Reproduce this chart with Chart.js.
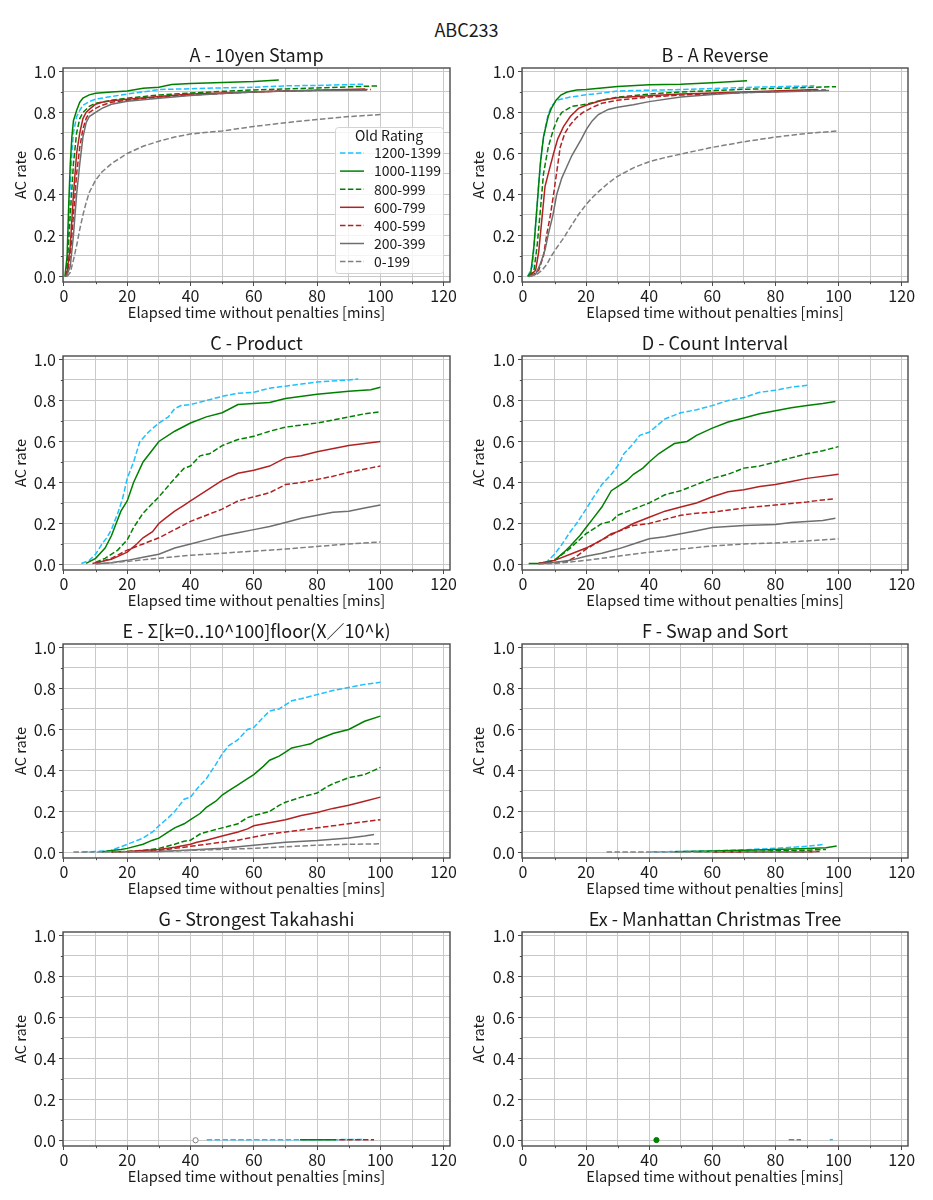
<!DOCTYPE html>
<html>
<head>
<meta charset="utf-8">
<title>ABC233</title>
<script src="https://cdn.jsdelivr.net/npm/chart.js@4.4.1/dist/chart.umd.min.js"></script>
<style>
  body { margin: 0; background: #fff; width: 933px; height: 1200px; position: relative; font-family: "Noto Sans CJK JP", "Noto Sans", sans-serif; }
  #suptitle { position: absolute; left: 0; top: 19px; width: 933px; text-align: center; font-size: 18px; line-height: 21px; color: #1a1a1a; }
  canvas { position: absolute; }
</style>
</head>
<body>
<div id="suptitle">ABC233</div>
<script>
const groups = ["1200-1399", "1000-1199", "800-999", "600-799", "400-599", "200-399", "0-199"];
const groupColors = ["#1ec0ff", "#008000", "#008000", "#b22222", "#b22222", "#6e6e6e", "#808080"];
const groupDashed = [true, false, true, false, true, false, true];

const xTickStep = 10;
const yTickStep = 0.1;

// each series: [minutes, AC rate] pairs, same order as groups
const seriesA = [
  [[0.5, 0], [1, 0.05], [1.5, 0.25], [2, 0.45], [2.5, 0.6], [3, 0.7], [4, 0.78], [5, 0.81], [6, 0.835], [8, 0.853], [10, 0.865], [15, 0.878], [20, 0.89], [25, 0.9], [30, 0.912], [40, 0.916], [50, 0.92], [60, 0.923], [70, 0.93], [80, 0.932], [94.7, 0.938]],
  [[0.3, 0], [1, 0.1], [1.5, 0.35], [2, 0.55], [2.5, 0.68], [3, 0.76], [4, 0.81], [5, 0.85], [6, 0.87], [8, 0.886], [10, 0.894], [15, 0.9], [20, 0.905], [25, 0.918], [30, 0.923], [34, 0.936], [40, 0.941], [50, 0.946], [60, 0.951], [67.9, 0.959]],
  [[0.5, 0], [1, 0.05], [2, 0.3], [3, 0.55], [4, 0.7], [5, 0.77], [6, 0.8], [8, 0.83], [10, 0.845], [15, 0.86], [20, 0.87], [30, 0.885], [40, 0.895], [50, 0.903], [60, 0.91], [70, 0.915], [80, 0.92], [90, 0.925], [99.6, 0.93]],
  [[0.5, 0], [1, 0.02], [2, 0.15], [3, 0.4], [4, 0.6], [5, 0.7], [6, 0.77], [7, 0.8], [8, 0.815], [10, 0.84], [12, 0.85], [15, 0.857], [20, 0.865], [30, 0.878], [40, 0.89], [50, 0.895], [60, 0.9], [70, 0.905], [80, 0.908], [95.2, 0.915]],
  [[0.5, 0], [1, 0.01], [2, 0.1], [3, 0.3], [4, 0.5], [5, 0.63], [6, 0.72], [7, 0.77], [8, 0.8], [10, 0.82], [12, 0.835], [15, 0.85], [20, 0.86], [30, 0.875], [40, 0.885], [50, 0.893], [60, 0.9], [70, 0.905], [80, 0.908], [97, 0.912]],
  [[0.5, 0], [1, 0.01], [2, 0.05], [3, 0.2], [4, 0.4], [5, 0.55], [6, 0.68], [7, 0.75], [8, 0.78], [10, 0.8], [12, 0.82], [15, 0.84], [20, 0.855], [30, 0.87], [40, 0.883], [50, 0.893], [60, 0.9], [70, 0.905], [80, 0.907], [95.7, 0.908]],
  [[1, 0], [2, 0.02], [3, 0.08], [4, 0.15], [5, 0.23], [6, 0.3], [7, 0.36], [8, 0.41], [10, 0.47], [12, 0.51], [15, 0.55], [18, 0.58], [20, 0.6], [25, 0.635], [30, 0.66], [35, 0.68], [40, 0.695], [50, 0.71], [60, 0.732], [70, 0.75], [80, 0.766], [90, 0.78], [100, 0.79]],
];

const seriesB = [
  [[1.5, 0], [3, 0.05], [4, 0.25], [5, 0.45], [6, 0.62], [7, 0.72], [8, 0.79], [9, 0.83], [10.7, 0.86], [15, 0.875], [20, 0.886], [25, 0.895], [30, 0.905], [50, 0.912], [70, 0.922], [92.3, 0.93]],
  [[1.5, 0], [2.5, 0.02], [3.5, 0.15], [4.5, 0.35], [5.5, 0.55], [6.5, 0.68], [8, 0.78], [9, 0.82], [10.5, 0.86], [12, 0.885], [14, 0.9], [17, 0.91], [20, 0.912], [25, 0.92], [30, 0.927], [40, 0.935], [50, 0.938], [60, 0.945], [71, 0.955]],
  [[2, 0], [3.5, 0.03], [4.5, 0.15], [5.5, 0.32], [6.5, 0.5], [8, 0.63], [9.7, 0.72], [11, 0.77], [12.3, 0.8], [15.5, 0.83], [20, 0.84], [25, 0.86], [30, 0.875], [40, 0.89], [50, 0.9], [70, 0.913], [99.2, 0.926]],
  [[2, 0], [4, 0.03], [5, 0.12], [6, 0.28], [7, 0.44], [8.5, 0.53], [9.7, 0.6], [11, 0.67], [12.8, 0.73], [15, 0.78], [17.6, 0.82], [20, 0.835], [25, 0.86], [30, 0.872], [40, 0.882], [50, 0.89], [70, 0.9], [93.4, 0.912]],
  [[2.5, 0], [5, 0.03], [6.5, 0.1], [7.6, 0.21], [8.7, 0.3], [9.7, 0.4], [10.8, 0.52], [11.8, 0.63], [13.3, 0.7], [15, 0.74], [17, 0.775], [19, 0.8], [22, 0.825], [25, 0.845], [30, 0.86], [40, 0.875], [50, 0.885], [70, 0.897], [96, 0.91]],
  [[2, 0], [4, 0.01], [5.5, 0.06], [7, 0.13], [8.1, 0.21], [9.5, 0.3], [10.7, 0.4], [12.3, 0.48], [13.9, 0.535], [15.5, 0.59], [17, 0.63], [18.5, 0.67], [20.2, 0.72], [22, 0.76], [23.9, 0.79], [27, 0.815], [30, 0.825], [35, 0.838], [40, 0.853], [50, 0.875], [60, 0.888], [70, 0.897], [80, 0.9], [97, 0.907]],
  [[2, 0], [4.4, 0.01], [6, 0.03], [7.6, 0.06], [9, 0.1], [10.7, 0.14], [13, 0.19], [15, 0.24], [17.5, 0.3], [20.2, 0.355], [22, 0.385], [24.4, 0.42], [27, 0.455], [29.7, 0.486], [35, 0.53], [40, 0.56], [45, 0.58], [50, 0.597], [60, 0.63], [70, 0.657], [80, 0.68], [90, 0.698], [100, 0.71]],
];

const seriesC = [
  [[5.5, 0.005], [8, 0.02], [10, 0.05], [12, 0.1], [13.5, 0.13], [15, 0.17], [17, 0.25], [18.5, 0.32], [20, 0.42], [22, 0.5], [24, 0.6], [27, 0.65], [30, 0.69], [33, 0.72], [35, 0.76], [37, 0.775], [40, 0.78], [45, 0.8], [50, 0.82], [55, 0.835], [60, 0.84], [65, 0.86], [70, 0.87], [75, 0.88], [80, 0.89], [90, 0.9], [93, 0.905]],
  [[7, 0.005], [10, 0.03], [13, 0.08], [15, 0.14], [18, 0.26], [20, 0.31], [22, 0.4], [25, 0.5], [28, 0.56], [30, 0.6], [35, 0.65], [40, 0.69], [45, 0.72], [50, 0.74], [55, 0.78], [60, 0.785], [65, 0.79], [70, 0.81], [80, 0.83], [90, 0.845], [97, 0.852], [100, 0.865]],
  [[10, 0.01], [13, 0.03], [17, 0.07], [20, 0.12], [22, 0.18], [25, 0.25], [30, 0.33], [35, 0.42], [38, 0.47], [40, 0.48], [43, 0.53], [46, 0.54], [50, 0.58], [55, 0.61], [60, 0.625], [65, 0.65], [70, 0.67], [80, 0.69], [90, 0.72], [95, 0.735], [100, 0.745]],
  [[9, 0.005], [12, 0.015], [15, 0.025], [20, 0.06], [23, 0.1], [25, 0.13], [28, 0.16], [30, 0.2], [32, 0.225], [35, 0.26], [38, 0.29], [40, 0.31], [45, 0.36], [50, 0.41], [55, 0.445], [60, 0.46], [65, 0.48], [70, 0.52], [75, 0.53], [80, 0.55], [90, 0.58], [100, 0.6]],
  [[10, 0.005], [15, 0.03], [20, 0.07], [25, 0.1], [30, 0.13], [35, 0.17], [40, 0.21], [45, 0.24], [50, 0.27], [55, 0.31], [60, 0.33], [65, 0.35], [70, 0.39], [75, 0.4], [80, 0.415], [85, 0.43], [90, 0.45], [100, 0.48]],
  [[10, 0.003], [15, 0.008], [20, 0.02], [25, 0.035], [30, 0.05], [35, 0.08], [40, 0.1], [45, 0.12], [50, 0.14], [55, 0.155], [60, 0.17], [65, 0.185], [70, 0.205], [75, 0.225], [80, 0.24], [85, 0.255], [90, 0.26], [95, 0.275], [100, 0.29]],
  [[10, 0.002], [20, 0.015], [30, 0.03], [40, 0.045], [50, 0.055], [60, 0.065], [70, 0.075], [80, 0.088], [90, 0.1], [100, 0.11]],
];

const seriesD = [
  [[7, 0.005], [10, 0.05], [12, 0.09], [15, 0.16], [17, 0.2], [20, 0.27], [22, 0.32], [25, 0.39], [28, 0.44], [30, 0.48], [32, 0.54], [35, 0.59], [37, 0.63], [40, 0.645], [45, 0.71], [50, 0.74], [55, 0.755], [60, 0.775], [65, 0.8], [70, 0.815], [75, 0.84], [80, 0.85], [85, 0.865], [90.7, 0.875]],
  [[1.8, 0.005], [5, 0.005], [10, 0.02], [13, 0.06], [15, 0.09], [18, 0.14], [20, 0.18], [22, 0.22], [25, 0.28], [28, 0.36], [30, 0.38], [33, 0.41], [35, 0.44], [38, 0.47], [40, 0.5], [43, 0.54], [45, 0.56], [48, 0.59], [52, 0.6], [55, 0.63], [60, 0.665], [65, 0.695], [70, 0.715], [75, 0.735], [80, 0.75], [85, 0.765], [90, 0.775], [95, 0.785], [99, 0.795]],
  [[5, 0.005], [10, 0.02], [15, 0.08], [20, 0.15], [25, 0.2], [28, 0.21], [30, 0.24], [35, 0.27], [40, 0.3], [45, 0.34], [50, 0.36], [55, 0.39], [60, 0.42], [65, 0.44], [70, 0.47], [75, 0.48], [80, 0.5], [85, 0.52], [90, 0.54], [95, 0.555], [100, 0.575]],
  [[5, 0.005], [10, 0.02], [15, 0.05], [20, 0.08], [25, 0.12], [28, 0.15], [30, 0.16], [35, 0.2], [40, 0.23], [45, 0.26], [50, 0.28], [55, 0.3], [60, 0.33], [65, 0.355], [70, 0.365], [75, 0.38], [80, 0.39], [85, 0.405], [90, 0.42], [100, 0.44]],
  [[5, 0.005], [10, 0.01], [14, 0.015], [17, 0.04], [20, 0.075], [25, 0.12], [30, 0.16], [35, 0.19], [40, 0.2], [45, 0.22], [50, 0.24], [55, 0.25], [60, 0.255], [70, 0.275], [80, 0.29], [90, 0.305], [95, 0.315], [99, 0.32]],
  [[5, 0.003], [10, 0.01], [15, 0.02], [20, 0.04], [25, 0.055], [30, 0.075], [35, 0.1], [40, 0.125], [45, 0.135], [50, 0.15], [55, 0.165], [60, 0.18], [65, 0.185], [70, 0.19], [80, 0.195], [85, 0.205], [90, 0.21], [95, 0.215], [99, 0.225]],
  [[5, 0.002], [10, 0.005], [20, 0.02], [30, 0.04], [40, 0.06], [50, 0.075], [60, 0.09], [70, 0.1], [80, 0.105], [90, 0.115], [100, 0.125]],
];

const seriesE = [
  [[6, 0.002], [10, 0.005], [15, 0.01], [20, 0.04], [25, 0.07], [28, 0.1], [30, 0.13], [33, 0.17], [35, 0.2], [38, 0.26], [40, 0.27], [42, 0.31], [45, 0.36], [48, 0.43], [50, 0.48], [52, 0.52], [55, 0.55], [58, 0.6], [60, 0.61], [63, 0.66], [65, 0.69], [68, 0.7], [70, 0.72], [72, 0.74], [75, 0.75], [80, 0.77], [85, 0.79], [90, 0.805], [95, 0.82], [100, 0.83]],
  [[12, 0.002], [15, 0.01], [18, 0.015], [20, 0.02], [25, 0.04], [28, 0.06], [30, 0.07], [33, 0.1], [35, 0.12], [38, 0.14], [40, 0.16], [43, 0.19], [45, 0.22], [48, 0.25], [50, 0.28], [52, 0.3], [55, 0.33], [58, 0.36], [60, 0.38], [63, 0.42], [65, 0.45], [68, 0.47], [70, 0.49], [72, 0.51], [75, 0.52], [78, 0.53], [80, 0.55], [85, 0.58], [90, 0.6], [95, 0.64], [100, 0.665]],
  [[15, 0.002], [20, 0.005], [25, 0.01], [30, 0.02], [35, 0.04], [38, 0.055], [40, 0.06], [43, 0.09], [45, 0.1], [50, 0.12], [55, 0.14], [58, 0.17], [60, 0.18], [65, 0.2], [68, 0.23], [70, 0.245], [75, 0.27], [80, 0.29], [83, 0.32], [85, 0.335], [90, 0.365], [95, 0.38], [100, 0.415]],
  [[15, 0.002], [20, 0.005], [25, 0.01], [30, 0.015], [35, 0.025], [40, 0.04], [42, 0.05], [45, 0.06], [50, 0.08], [55, 0.1], [58, 0.115], [60, 0.13], [65, 0.145], [70, 0.16], [75, 0.18], [80, 0.195], [85, 0.215], [90, 0.23], [95, 0.25], [100, 0.27]],
  [[20, 0.002], [30, 0.01], [35, 0.02], [40, 0.03], [45, 0.04], [50, 0.05], [55, 0.06], [60, 0.075], [65, 0.09], [70, 0.1], [75, 0.11], [80, 0.12], [85, 0.13], [90, 0.14], [95, 0.15], [100, 0.16]],
  [[20, 0.002], [30, 0.005], [40, 0.012], [50, 0.02], [60, 0.035], [70, 0.05], [80, 0.058], [90, 0.07], [95, 0.08], [98, 0.088]],
  [[3, 0.002], [20, 0.003], [30, 0.005], [40, 0.01], [50, 0.015], [60, 0.02], [70, 0.028], [80, 0.035], [90, 0.04], [100, 0.042]],
];

const seriesF = [
  [[40.7, 0.003], [50, 0.005], [60, 0.008], [70, 0.013], [80, 0.02], [85, 0.025], [90, 0.03], [95, 0.039]],
  [[48, 0.003], [60, 0.007], [70, 0.011], [80, 0.015], [90, 0.019], [96, 0.023], [99.4, 0.031]],
  [[55, 0.003], [70, 0.005], [80, 0.008], [90, 0.011], [96, 0.015]],
  [[60, 0.002], [75, 0.003], [85, 0.004], [94, 0.005]],
  [[65, 0.002], [80, 0.003], [92, 0.004]],
  [[70, 0.002], [90, 0.003]],
  [[26.5, 0.002], [40, 0.002], [60, 0.003], [80, 0.003], [93, 0.004]],
];

const seriesG = [
  [[45.1, 0.003], [60, 0.003], [75, 0.004], [86, 0.004], [95, 0.005]],
  [[74.6, 0.003], [80, 0.004], [86, 0.004]],
  [],
  [],
  [[87, 0.004], [98, 0.004]],
  [],
  [[41.6, 0.001]],
];

const seriesEx = [
  [[97.2, 0.004], [98.2, 0.004]],
  [[42.3, 0.002]],
  [],
  [],
  [],
  [],
  [[84.2, 0.003], [88.1, 0.003]],
];

const panels = [
  { title: "A - 10yen Stamp", series: seriesA, legend: true },
  { title: "B - A Reverse", series: seriesB },
  { title: "C - Product", series: seriesC },
  { title: "D - Count Interval", series: seriesD },
  { title: "E - Σ[k=0..10^100]floor(X／10^k)", series: seriesE },
  { title: "F - Swap and Sort", series: seriesF },
  { title: "G - Strongest Takahashi", series: seriesG },
  { title: "Ex - Manhattan Christmas Tree", series: seriesEx },
];

const fontFamily = '"Noto Sans CJK JP", "Noto Sans", sans-serif';
const textColor = "#1a1a1a";
const tickMarkColor = "#4a4a4a";
const dashPattern = [5.5, 2.4];

Chart.defaults.font.family = fontFamily;
Chart.defaults.color = textColor;

function makeDatasets(series) {
  return series.map((points, i) => ({
    label: groups[i],
    data: points.map(([x, y]) => ({ x, y })),
    showLine: true,
    borderColor: groupColors[i],
    backgroundColor: groupColors[i],
    borderWidth: 1.5,
    borderDash: groupDashed[i] ? dashPattern : [],
    tension: 0,
    pointRadius: points.length === 1 ? 2.6 : 0,
    pointBorderWidth: 1,
    pointBorderColor: groupColors[i],
    pointBackgroundColor: groupDashed[i] ? "#ffffff" : groupColors[i],
    order: groups.length - i,
  }));
}

// major ticks come from Chart.js, the short minor ones are drawn here
function majorTickColor(context) {
  return context.tick && context.tick.label !== "" ? tickMarkColor : "rgba(0,0,0,0)";
}

const panelPlugin = {
  id: "panelDecor",
  afterDatasetsDraw(chart, args, opts) {
    const { ctx, chartArea: a, scales } = chart;
    ctx.save();
    ctx.strokeStyle = tickMarkColor;
    ctx.lineWidth = 1;
    ctx.beginPath();
    scales.x.ticks.forEach((tick) => {
      if (tick.label !== "") return;
      const px = Math.round(scales.x.getPixelForValue(tick.value)) + 0.5;
      ctx.moveTo(px, a.bottom);
      ctx.lineTo(px, a.bottom + 2.2);
    });
    scales.y.ticks.forEach((tick) => {
      if (tick.label !== "") return;
      const py = Math.round(scales.y.getPixelForValue(tick.value)) + 0.5;
      ctx.moveTo(a.left, py);
      ctx.lineTo(a.left - 2.2, py);
    });
    ctx.stroke();

    ctx.strokeStyle = "#4a4a4a";
    ctx.lineWidth = 1.4;
    ctx.strokeRect(a.left, a.top, a.right - a.left, a.bottom - a.top);
    ctx.fillStyle = textColor;
    ctx.font = `18px ${fontFamily}`;
    ctx.textAlign = "center";
    ctx.textBaseline = "alphabetic";
    ctx.fillText(opts.title, (a.left + a.right) / 2, a.top - 6);
    ctx.restore();
  },
  afterDraw(chart, args, opts) {
    if (!opts.legend) return;
    const { ctx, chartArea: a } = chart;
    const w = 108;
    const h = 146;
    const x0 = a.right - 7 - w;
    const y0 = a.bottom - 9 - h;
    ctx.save();
    ctx.fillStyle = "rgba(255,255,255,0.8)";
    ctx.strokeStyle = "#d4d4d4";
    ctx.lineWidth = 1;
    ctx.beginPath();
    ctx.roundRect(x0 + 0.5, y0 + 0.5, w, h, 3);
    ctx.fill();
    ctx.stroke();
    ctx.fillStyle = textColor;
    ctx.font = `14px ${fontFamily}`;
    ctx.textBaseline = "middle";
    ctx.textAlign = "center";
    ctx.fillText("Old Rating", x0 + w / 2, y0 + 8.5);
    ctx.textAlign = "left";
    groups.forEach((group, i) => {
      const yy = y0 + 26 + i * 18.1;
      ctx.strokeStyle = groupColors[i];
      ctx.lineWidth = 1.5;
      ctx.setLineDash(groupDashed[i] ? dashPattern : []);
      ctx.beginPath();
      ctx.moveTo(x0 + 5, yy);
      ctx.lineTo(x0 + 29, yy);
      ctx.stroke();
      ctx.setLineDash([]);
      ctx.fillStyle = textColor;
      ctx.fillText(group, x0 + 39, yy);
    });
    ctx.restore();
  },
};

function createPanel(panel, index) {
  const col = index % 2;
  const row = Math.floor(index / 2);
  const width = col === 0 ? 458 : 475;
  const canvas = document.createElement("canvas");
  canvas.width = width;
  canvas.height = 288;
  canvas.style.left = `${col * 458}px`;
  canvas.style.top = `${40 + row * 288}px`;
  document.body.appendChild(canvas);

  const axisWidth = col === 0 ? 63 : 64;

  new Chart(canvas, {
    type: "scatter",
    data: { datasets: makeDatasets(panel.series) },
    plugins: [panelPlugin],
    options: {
      responsive: false,
      animation: false,
      devicePixelRatio: 1,
      layout: { padding: { top: 28, right: width - 450, left: 0, bottom: 0 } },
      plugins: {
        legend: { display: false },
        tooltip: { enabled: false },
        panelDecor: { title: panel.title, legend: !!panel.legend },
      },
      scales: {
        x: {
          type: "linear",
          min: -0.3,
          max: 122,
          border: { display: false },
          grid: { color: "#c9c9c9", lineWidth: 1, tickLength: 4, tickColor: majorTickColor },
          ticks: {
            stepSize: xTickStep,
            includeBounds: false,
            autoSkip: false,
            maxRotation: 0,
            padding: 0,
            color: textColor,
            font: { size: 16 },
            callback: (value) => (Math.round(value) % 20 === 0 ? String(Math.round(value)) : ""),
          },
          title: {
            display: true,
            text: "Elapsed time without penalties [mins]",
            color: textColor,
            font: { size: 14.6 },
            padding: { top: 0, bottom: 7 },
          },
          afterFit: (scale) => {
            scale.height = 46;
            scale.paddingLeft = 0;
            scale.paddingRight = 0;
          },
        },
        y: {
          type: "linear",
          min: -0.027,
          max: 1.017,
          border: { display: false },
          grid: { color: "#c9c9c9", lineWidth: 1, tickLength: 4, tickColor: majorTickColor },
          ticks: {
            stepSize: yTickStep,
            includeBounds: false,
            autoSkip: false,
            padding: 3,
            color: textColor,
            font: { size: 16 },
            callback: (value) => (Math.round(value * 10) % 2 === 0 ? value.toFixed(1) : ""),
          },
          title: {
            display: true,
            text: "AC rate",
            color: textColor,
            font: { size: 14.6 },
            padding: { top: 12, bottom: 0 },
          },
          afterFit: (scale) => {
            scale.width = axisWidth;
            scale.paddingTop = 0;
            scale.paddingBottom = 0;
          },
        },
      },
    },
  });
}

panels.forEach(createPanel);
</script>
</body>
</html>
